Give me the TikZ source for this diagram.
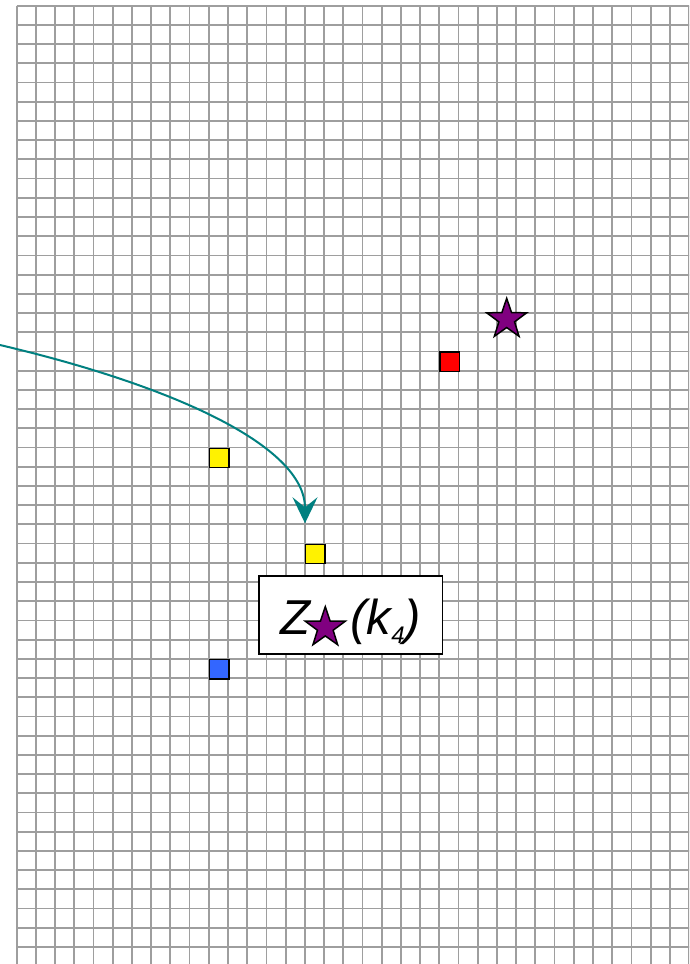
\documentclass[tikz,border=0pt]{standalone}
\usepackage{fontspec}
\setmainfont{Liberation Sans}
\usetikzlibrary{shapes.geometric,arrows.meta}
\definecolor{gridgray}{RGB}{158,158,158}
\definecolor{starpurple}{RGB}{128,0,128}
\definecolor{linkteal}{RGB}{0,128,128}
\definecolor{cellblue}{RGB}{51,102,255}
\begin{document}
\begin{tikzpicture}[x=1pt,y=-1pt,
  gridline/.style={line width=1.8pt,draw=gridgray},
  cell/.style={draw=black,line width=1.5pt,minimum size=19.2pt,inner sep=0pt,anchor=north west},
  starmark/.style={star,star points=5,star point ratio=2.55,minimum size=42pt,inner sep=0pt,fill=starpurple,draw=black,line width=1.5pt},
  link/.style={draw=linkteal,line width=2pt,-{Stealth[length=26pt,width=25pt,inset=10pt]}},
  labelbox/.style={draw=black,fill=white,line width=1.5pt,inner sep=0pt,text height=58.3pt,text depth=20pt,minimum width=183.4pt,anchor=north west,font=\fontsize{49}{58}\selectfont\itshape}]
\useasboundingbox (0,0) rectangle (689,964);
\fill[white] (0,0) rectangle (689,964);
\begin{scope}
\clip (0,0) rectangle (689,964);
\foreach \i in {0,...,35} \draw[gridline] ({16.7+19.21*\i},5.7) -- ({16.7+19.21*\i},975);
\foreach \j in {0,...,50} \draw[gridline] (16.7,{5.7+19.21*\j}) -- (700,{5.7+19.21*\j});
\end{scope}
\node[cell,fill=red] (redsq) at ({16.7+19.21*22},{5.7+19.21*18}) {};
\node[cell,fill=yellow] (ysqa) at ({16.7+19.21*10},{5.7+19.21*23}) {};
\node[cell,fill=yellow] (ysqb) at ({16.7+19.21*15},{5.7+19.21*28}) {};
\node[cell,fill=cellblue] (bluesq) at ({16.7+19.21*10},{5.7+19.21*34}) {};
\node[starmark] (bigstar) at (506.7,319.3) {};
\coordinate (start) at (0,345);
\coordinate (tip) at (305,523.3);
\draw[link] (start) .. controls (170,385) and (305,445) .. (tip);
\node[labelbox] (lbl) at (258.3,575) {Z\hspace{40pt}(k\raisebox{-9.7pt}{\fontsize{24}{28}\selectfont 4})};
\node[starmark] (lstar) at (325.3,627.7) {};
\end{tikzpicture}
\end{document}
